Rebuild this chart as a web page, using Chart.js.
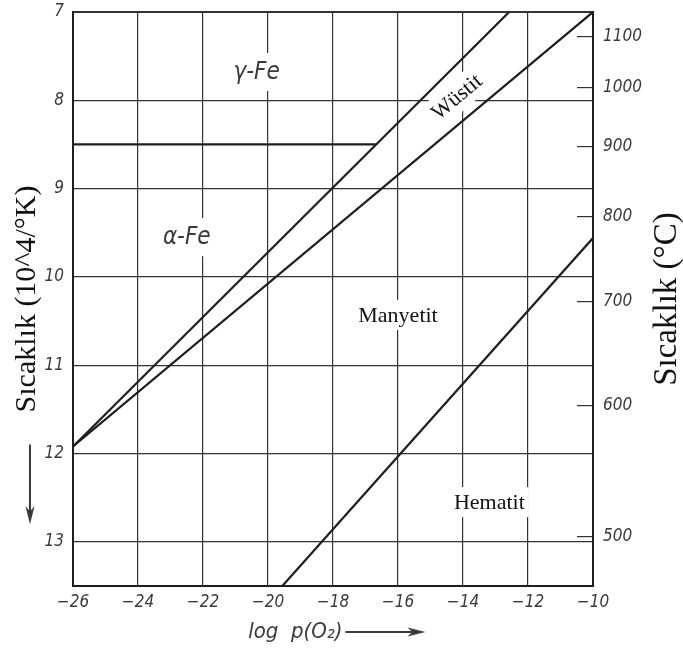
<!DOCTYPE html>
<html>
<head>
<meta charset="utf-8">
<script src="https://cdn.jsdelivr.net/npm/chart.js@4"></script>
<style>
  html, body { margin: 0; padding: 0; background: #fff; }
  #wrap { width: 683px; height: 651px; }
</style>
</head>
<body>
<div id="wrap"><canvas id="chart"></canvas></div>
<script>
// axes: log p(O2) and temperature as 10^4/K (right side in °C)
const xTicks = [-26, -24, -22, -20, -18, -16, -14, -12, -10];
const yTicks = [7, 8, 9, 10, 11, 12, 13];
const celsiusTicks = [1100, 1000, 900, 800, 700, 600, 500];

// phase boundaries
const feFeoX = [-26, -12.58];
const feFeoY = [11.92, 7];
const feoMagX = [-26, -10];
const feoMagY = [11.92, 7];
const alphaGammaX = [-26, -16.68];
const alphaGammaY = [8.5, 8.5];
const magHemX = [-19.56, -10];
const magHemY = [13.5, 9.56];

// region names and where they sit
const regionNames = ['γ-Fe', 'α-Fe', 'Wüstit', 'Manyetit', 'Hematit'];
const regionX = [-20.35, -22.5, -14.2, -16.0, -13.19];
const regionY = [7.68, 9.55, 7.96, 10.43, 12.55];

const ink = '#1e1e1e';
const gridInk = '#333';
const grey = '#3a3a3a';
const sans = "'DejaVu Sans Condensed', 'Liberation Sans Narrow', 'DejaVu Sans', sans-serif";
const serif = "'Liberation Serif', 'DejaVu Serif', serif";
const tickFont = { family: sans, size: 17, style: 'italic' };

function pts(xs, ys) {
    return xs.map((x, i) => ({ x: x, y: ys[i] }));
}

function line(xs, ys) {
    return {
        data: pts(xs, ys),
        showLine: true,
        borderColor: ink,
        borderWidth: 2.2,
        pointRadius: 0,
        fill: false
    };
}

function arrow(ctx, x1, y1, x2, y2) {
    const a = Math.atan2(y2 - y1, x2 - x1);
    ctx.beginPath();
    ctx.moveTo(x1, y1);
    ctx.lineTo(x2 - 12 * Math.cos(a), y2 - 12 * Math.sin(a));
    ctx.stroke();
    ctx.save();
    ctx.translate(x2, y2);
    ctx.rotate(a);
    ctx.beginPath();
    ctx.moveTo(0, 0);
    ctx.lineTo(-18, -4.5);
    ctx.lineTo(-13, 0);
    ctx.lineTo(-18, 4.5);
    ctx.closePath();
    ctx.fill();
    ctx.restore();
}

const xTitle = 'log  p(O₂)';
const xTitlePad = '\u00a0'.repeat(12);

function noEdgePad(s) {
    s.paddingTop = 0;
    s.paddingBottom = 0;
}

const regionLabels = {
    id: 'regionLabels',
    beforeDatasetsDraw(chart) {
        const {ctx, scales: {x, y}} = chart;
        regionNames.forEach((name, i) => {
            const isSerif = i >= 2;
            ctx.save();
            ctx.translate(x.getPixelForValue(regionX[i]), y.getPixelForValue(regionY[i]));
            if (name === 'Wüstit') ctx.rotate(-40 * Math.PI / 180);
            ctx.font = isSerif ? '22px ' + serif : 'italic 24px ' + sans;
            const w = ctx.measureText(name).width;
            const h = isSerif ? 30 : 38;
            ctx.fillStyle = '#fff';
            ctx.fillRect(-w / 2 - 4, -h / 2, w + 8, h);
            ctx.fillStyle = isSerif ? '#111' : grey;
            ctx.textAlign = 'center';
            ctx.textBaseline = 'middle';
            ctx.fillText(name, 0, 1);
            ctx.restore();
        });
    },
    afterDraw(chart) {
        const {ctx, chartArea, scales: {x, y}} = chart;
        ctx.save();
        ctx.strokeStyle = grey;
        ctx.fillStyle = grey;
        ctx.lineWidth = 2;
        // arrow next to the x title
        ctx.font = 'italic 22px ' + sans;
        const full = ctx.measureText(xTitle + xTitlePad).width;
        const vis = ctx.measureText(xTitle).width;
        const cx = (x.left + x.right) / 2;
        const ty = x.bottom - 13 - 6;
        const ax = cx - full / 2 + vis + 3;
        arrow(ctx, ax, ty, ax + 80, ty);
        // downward arrow on the left
        const lx = y.left + 30;
        arrow(ctx, lx, y.getPixelForValue(12) - 9, lx, y.getPixelForValue(12.8));
        // right axis title, reading upwards
        ctx.fillStyle = '#111';
        ctx.font = '33px ' + serif;
        ctx.translate(chart.width - 16, (chartArea.top + chartArea.bottom) / 2);
        ctx.rotate(-Math.PI / 2);
        ctx.textAlign = 'center';
        ctx.textBaseline = 'middle';
        ctx.fillText('Sıcaklık (°C)', 0, 0);
        ctx.restore();
    }
};

new Chart(document.getElementById('chart'), {
    type: 'scatter',
    data: {
        datasets: [
            line(feFeoX, feFeoY),
            line(feoMagX, feoMagY),
            line(alphaGammaX, alphaGammaY),
            line(magHemX, magHemY)
        ]
    },
    options: {
        responsive: true,
        maintainAspectRatio: false,
        animation: false,
        layout: { padding: { top: 12, left: 0, right: 0, bottom: 0 } },
        plugins: { legend: { display: false }, tooltip: { enabled: false } },
        scales: {
            x: {
                type: 'linear',
                min: -26,
                max: -10,
                afterBuildTicks: s => { s.ticks = xTicks.map(v => ({ value: v })); },
                afterFit: s => { s.height = 65; s.paddingLeft = 0; s.paddingRight = 0; },
                ticks: {
                    callback: v => '−' + Math.abs(v),
                    font: tickFont,
                    color: grey,
                    padding: 6,
                    maxRotation: 0
                },
                grid: {
                    color: gridInk,
                    lineWidth: c => (c.tick && (c.tick.value === -26 || c.tick.value === -10)) ? 2 : 1.2,
                    drawTicks: false
                },
                border: { color: ink, width: 2 },
                title: {
                    display: true,
                    text: xTitle + xTitlePad,
                    color: grey,
                    font: { family: sans, size: 22, style: 'italic' },
                    padding: { top: 0, bottom: 6 }
                }
            },
            y: {
                type: 'linear',
                position: 'left',
                reverse: true,
                min: 7,
                max: 13.5,
                afterBuildTicks: s => { s.ticks = yTicks.map(v => ({ value: v })); },
                afterFit: s => { s.width = 73; noEdgePad(s); },
                ticks: { font: tickFont, color: grey, padding: 9 },
                grid: {
                    color: gridInk,
                    lineWidth: c => (c.tick && c.tick.value === 7) ? 2 : 1.2,
                    drawTicks: false
                },
                border: { color: ink, width: 2 },
                title: {
                    display: true,
                    text: 'Sıcaklık (10^4/°K)',
                    color: '#111',
                    font: { family: serif, size: 30 },
                    padding: { top: 9, bottom: 0 }
                }
            },
            y2: {
                type: 'linear',
                position: 'right',
                reverse: true,
                min: 7,
                max: 13.5,
                afterBuildTicks: s => { s.ticks = celsiusTicks.map(c => ({ value: 1e4 / (c + 273) })); },
                afterFit: s => { s.width = 90; noEdgePad(s); },
                ticks: {
                    callback: (v, i) => String(celsiusTicks[i]),
                    font: tickFont,
                    color: grey,
                    padding: 26
                },
                grid: {
                    drawOnChartArea: false,
                    drawTicks: true,
                    tickLength: -16,
                    color: gridInk,
                    lineWidth: 1.2
                },
                border: { color: ink, width: 2 }
            }
        }
    },
    plugins: [regionLabels]
});
</script>
</body>
</html>
